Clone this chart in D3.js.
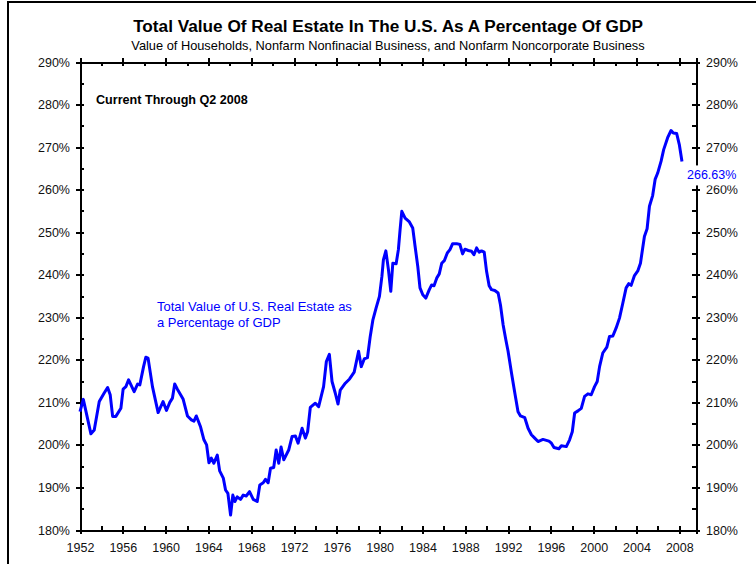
<!DOCTYPE html>
<html lang="en">
    <head>
        <meta charset="utf-8">
        <title>Real Estate / GDP</title>
        <script src="https://cdn.jsdelivr.net/npm/d3@7"></script>
        <style type="text/css">
                body {
                    margin: 0;
                    background: #fff;
                }
                text {
                    font-family: "Liberation Sans", Arial, sans-serif;
                }
                .axis path,
                .axis line {
                    fill: none;
                    stroke: black;
                    stroke-width: 2;
                    shape-rendering: crispEdges;
                }
                .axis text {
                    font-size: 12.5px;
                    fill: #111;
                }
         </style>
    </head>
    <body>
        <script type="text/javascript">
        var w = 756;
        var h = 564;

        // quarterly readings, 1952 Q1 -> 2008 Q2
        var years = [
            1952.0, 1952.31, 1953.02, 1953.33, 1953.80, 1954.26, 1954.58, 1954.82, 1955.05, 1955.35,
            1955.82, 1956.03, 1956.29, 1956.54, 1957.06, 1957.38, 1957.59, 1957.94, 1958.15, 1958.36,
            1958.77, 1959.30, 1959.76, 1960.08, 1960.39, 1960.64, 1960.85, 1961.10, 1961.63, 1962.04,
            1962.41, 1962.65, 1962.87, 1963.27, 1963.58, 1963.83, 1964.05, 1964.27, 1964.51, 1964.83,
            1965.05, 1965.39, 1965.60, 1965.82, 1966.07, 1966.28, 1966.47, 1966.69, 1967.00, 1967.25,
            1967.53, 1967.84, 1968.19, 1968.56, 1968.80, 1969.12, 1969.33, 1969.58, 1969.80, 1970.10,
            1970.33, 1970.57, 1970.79, 1971.04, 1971.50, 1971.82, 1972.13, 1972.38, 1972.75, 1973.06,
            1973.27, 1973.52, 1973.99, 1974.30, 1974.76, 1975.02, 1975.30, 1975.55, 1975.85, 1976.11,
            1976.32, 1976.79, 1977.19, 1977.62, 1978.03, 1978.28, 1978.56, 1978.86, 1979.12, 1979.37,
            1979.67, 1979.98, 1980.21, 1980.35, 1980.58, 1980.82, 1981.04, 1981.23, 1981.54, 1981.75,
            1981.91, 1982.07, 1982.38, 1982.78, 1983.09, 1983.31, 1983.56, 1983.77, 1984.03, 1984.31,
            1984.64, 1984.86, 1985.08, 1985.33, 1985.57, 1985.80, 1986.04, 1986.32, 1986.57, 1986.82,
            1987.19, 1987.50, 1987.75, 1987.97, 1988.28, 1988.59, 1988.81, 1989.06, 1989.30, 1989.52,
            1989.77, 1989.99, 1990.23, 1990.45, 1990.76, 1991.07, 1991.29, 1991.54, 1991.79, 1992.00,
            1992.32, 1992.63, 1992.93, 1993.16, 1993.56, 1993.87, 1994.18, 1994.49, 1994.80, 1995.26,
            1995.82, 1996.05, 1996.29, 1996.75, 1996.98, 1997.44, 1997.75, 1998.00, 1998.22, 1998.53,
            1998.84, 1999.15, 1999.46, 1999.77, 2000.08, 2000.33, 2000.55, 2000.85, 2001.23, 2001.48,
            2001.79, 2002.10, 2002.41, 2002.72, 2003.03, 2003.28, 2003.50, 2003.81, 2004.12, 2004.37,
            2004.58, 2004.74, 2004.99, 2005.21, 2005.51, 2005.74, 2005.98, 2006.30, 2006.54, 2006.91,
            2007.23, 2007.44, 2007.75, 2008.00, 2008.25
        ];
        var values = [
            207.8, 210.7, 202.6, 203.5, 210.2, 212.2, 213.5, 211.8, 206.7, 206.7,
            208.6, 213.1, 213.7, 215.3, 212.5, 214.3, 214.1, 218.4, 220.6, 220.4,
            213.7, 207.6, 210.2, 208.1, 210.0, 211.0, 214.3, 213.1, 210.8, 206.8,
            205.9, 205.6, 206.8, 204.2, 201.2, 200.0, 195.8, 196.9, 195.7, 197.6,
            193.9, 192.2, 189.4, 188.6, 183.5, 188.2, 186.7, 187.8, 187.2, 188.2,
            188.0, 189.0, 187.2, 186.7, 190.6, 191.1, 191.9, 191.1, 194.5, 194.7,
            198.8, 195.7, 199.5, 196.5, 198.8, 202.0, 202.1, 200.4, 203.9, 201.6,
            203.1, 208.8, 209.8, 209.0, 213.7, 219.6, 221.3, 214.9, 212.2, 209.6,
            212.9, 214.5, 215.5, 217.1, 222.0, 218.4, 220.2, 220.5, 225.5, 229.4,
            232.2, 234.9, 239.6, 243.5, 245.6, 241.2, 236.1, 242.7, 242.6, 245.9,
            250.6, 254.9, 253.3, 252.4, 251.0, 246.7, 242.0, 236.9, 235.3, 234.5,
            236.5, 237.6, 237.4, 239.2, 240.2, 242.7, 243.3, 245.1, 245.9, 247.3,
            247.3, 247.1, 244.9, 246.0, 245.7, 245.5, 244.7, 246.3, 245.3, 245.6,
            245.3, 240.8, 237.4, 236.5, 236.3, 235.7, 232.9, 228.2, 224.7, 222.0,
            216.9, 212.2, 207.8, 206.8, 206.4, 203.9, 202.4, 201.6, 200.8, 201.3,
            200.9, 200.4, 199.4, 199.1, 199.8, 199.6, 201.2, 203.1, 207.5, 208.0,
            208.6, 211.4, 212.0, 211.8, 213.7, 214.9, 218.4, 221.6, 223.0, 225.5,
            225.6, 227.5, 229.8, 233.3, 236.9, 237.9, 237.5, 239.8, 240.9, 242.7,
            246.3, 249.0, 250.8, 256.1, 258.6, 262.4, 263.9, 266.7, 269.4, 272.2,
            273.9, 273.3, 273.2, 270.6, 266.63
        ];

        var xTicks = d3.range(1952, 2009, 4);
        var xMinor = d3.range(1954, 2010, 4);
        var yTicks = d3.range(180, 291, 10);
        var yMinor = d3.range(185, 290, 10);

        var title = "Total Value Of Real Estate In The U.S. As A Percentage Of GDP";
        var subtitle = "Value of Households, Nonfarm Nonfinacial Business, and Nonfarm Noncorporate Business";
        var note = "Current Through Q2 2008";
        var seriesLabel = ["Total Value of U.S. Real Estate as", "a Percentage of GDP"];

        var plotLeft = 80, plotRight = 696, plotTop = 62, plotBottom = 530;

        var x = d3.scaleLinear().domain([1952, 2009.56]).range([plotLeft, plotRight]);
        var y = d3.scaleLinear().domain([180, 290]).range([plotBottom, plotTop]);

        var svg = d3.select("body")
                .append("svg")
                .attr("width", w)
                .attr("height", h);

        // outer frame
        svg.append("rect")
            .attr("x", 8).attr("y", 2)
            .attr("width", 800).attr("height", 700)
            .attr("fill", "white")
            .attr("stroke", "black")
            .attr("stroke-width", 2);

        svg.append("text")
            .attr("x", (plotLeft + plotRight) / 2).attr("y", 32)
            .attr("text-anchor", "middle")
            .style("font-size", "17.2px").style("font-weight", "bold")
            .text(title);
        svg.append("text")
            .attr("x", (plotLeft + plotRight) / 2).attr("y", 50)
            .attr("text-anchor", "middle")
            .style("font-size", "12.8px")
            .text(subtitle);

        // major ticks cross the axis, minor ticks sit inside
        var gx = svg.append("g").attr("class", "axis")
            .attr("transform", "translate(0," + plotBottom + ")")
            .call(d3.axisBottom(x).tickValues(xTicks).tickFormat(d3.format("d")).tickSize(4).tickPadding(9));
        gx.selectAll(".tick line").attr("y1", -4);
        svg.append("g").attr("class", "axis")
            .attr("transform", "translate(0," + plotBottom + ")")
            .call(d3.axisBottom(x).tickValues(xMinor).tickFormat("").tickSize(-4))
            .select(".domain").remove();

        var gt = svg.append("g").attr("class", "axis")
            .attr("transform", "translate(0," + plotTop + ")")
            .call(d3.axisTop(x).tickValues(xTicks).tickFormat("").tickSize(4));
        gt.selectAll(".tick line").attr("y1", 4);
        svg.append("g").attr("class", "axis")
            .attr("transform", "translate(0," + plotTop + ")")
            .call(d3.axisTop(x).tickValues(xMinor).tickFormat("").tickSize(-4))
            .select(".domain").remove();

        var fmt = function(d) { return d + "%"; };

        var gl = svg.append("g").attr("class", "axis")
            .attr("transform", "translate(" + plotLeft + ",0)")
            .call(d3.axisLeft(y).tickValues(yTicks).tickFormat(fmt).tickSize(4).tickPadding(6));
        gl.selectAll(".tick line").attr("x1", 4);
        svg.append("g").attr("class", "axis")
            .attr("transform", "translate(" + plotLeft + ",0)")
            .call(d3.axisLeft(y).tickValues(yMinor).tickFormat("").tickSize(-4))
            .select(".domain").remove();

        var gr = svg.append("g").attr("class", "axis")
            .attr("transform", "translate(" + plotRight + ",0)")
            .call(d3.axisRight(y).tickValues(yTicks).tickFormat(fmt).tickSize(4).tickPadding(6));
        gr.selectAll(".tick line").attr("x1", -4);
        svg.append("g").attr("class", "axis")
            .attr("transform", "translate(" + plotRight + ",0)")
            .call(d3.axisRight(y).tickValues(yMinor).tickFormat("").tickSize(-4))
            .select(".domain").remove();

        var series = years.map(function(d, i) { return [d, values[i]]; });

        svg.append("path")
            .datum(series)
            .attr("fill", "none")
            .attr("stroke", "#0000ff")
            .attr("stroke-width", 3)
            .attr("stroke-linejoin", "round")
            .attr("d", d3.line()
                .x(function(d) { return x(d[0]); })
                .y(function(d) { return y(d[1]); }));

        svg.append("text")
            .attr("x", 96).attr("y", 104)
            .style("font-size", "12.6px").style("font-weight", "bold")
            .text(note);

        svg.selectAll(".serieslabel")
            .data(seriesLabel)
            .enter()
            .append("text")
            .attr("class", "serieslabel")
            .attr("x", 157)
            .attr("y", function(d, i) { return 311 + i * 16; })
            .attr("fill", "#0000ff")
            .style("font-size", "13px")
            .text(function(d) { return d; });

        // end value label, boxed in white over the right axis, just below the last point
        var last = values[values.length - 1];
        var endLabel = svg.append("g");
        var endText = endLabel.append("text")
            .attr("x", 687).attr("y", y(last) + 18)
            .attr("fill", "#0000ff")
            .style("font-size", "12.5px")
            .text(d3.format(".2f")(last) + "%");
        var bb = endText.node().getBBox();
        endLabel.insert("rect", "text")
            .attr("x", bb.x - 2).attr("y", bb.y - 3)
            .attr("width", bb.width + 4).attr("height", bb.height + 6)
            .attr("fill", "white");
        </script>
    </body>
</html>
